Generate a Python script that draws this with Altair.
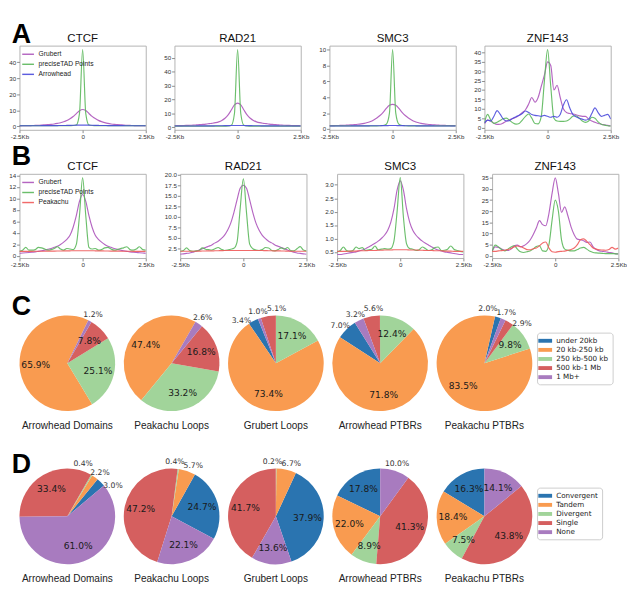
import math
import altair as alt
import pandas as pd

# ---------------- x grid (kb from boundary) ----------------
X = [-2.5, -2.375, -2.25, -2.125, -2.0, -1.875, -1.75, -1.625, -1.5, -1.375,
     -1.25, -1.125, -1.0, -0.875, -0.75, -0.625, -0.5, -0.375, -0.25, -0.125,
     0.0, 0.125, 0.25, 0.375, 0.5, 0.625, 0.75, 0.875, 1.0, 1.125,
     1.25, 1.375, 1.5, 1.625, 1.75, 1.875, 2.0, 2.125, 2.25, 2.375, 2.5]

# ---------------- Row A profiles ----------------
A_CTCF_GRUBERT = [0.4, 0.45, 0.5, 0.5, 0.6, 0.65, 0.75, 0.85, 1.0, 1.15, 1.3, 1.55, 1.9, 2.3, 2.9, 3.7, 4.8, 6.2, 8.0, 9.8,
                  10.6, 9.9, 8.1, 6.3, 4.9, 3.8, 3.0, 2.4, 1.9, 1.55, 1.3, 1.15, 1.0, 0.85, 0.75, 0.65, 0.6, 0.5, 0.5, 0.45, 0.4]
A_CTCF_PRECISE = [0.5, 0.5, 0.5, 0.5, 0.5, 0.5, 0.5, 0.5, 0.5, 0.5, 0.5, 0.5, 0.5, 0.5, 0.5, 0.5, 0.55, 0.6, 0.9, 8.0,
                  48.0, 8.0, 0.9, 0.6, 0.55, 0.5, 0.5, 0.5, 0.5, 0.5, 0.5, 0.5, 0.5, 0.5, 0.5, 0.5, 0.5, 0.5, 0.5, 0.5, 0.5]
A_CTCF_ARROW = [0.45, 0.45, 0.45, 0.45, 0.45, 0.45, 0.45, 0.5, 0.5, 0.5, 0.5, 0.55, 0.55, 0.6, 0.6, 0.65, 0.7, 0.75, 0.8, 0.85,
                0.85, 0.85, 0.8, 0.75, 0.7, 0.65, 0.6, 0.6, 0.55, 0.55, 0.5, 0.5, 0.5, 0.5, 0.45, 0.45, 0.45, 0.45, 0.45, 0.45, 0.45]

A_RAD21_GRUBERT = [1.2, 1.25, 1.3, 1.35, 1.45, 1.55, 1.65, 1.8, 1.95, 2.15, 2.4, 2.7, 3.0, 3.4, 4.0, 5.0, 6.6, 9.0, 12.5, 16.2,
                   17.5, 16.2, 12.5, 9.0, 6.6, 5.0, 4.0, 3.4, 3.0, 2.7, 2.4, 2.15, 1.95, 1.8, 1.65, 1.55, 1.45, 1.35, 1.3, 1.25, 1.2]
A_RAD21_PRECISE = [0.9, 0.9, 0.9, 0.9, 0.9, 0.9, 0.9, 0.9, 0.9, 0.9, 0.9, 0.9, 0.9, 0.9, 0.9, 0.9, 0.95, 1.0, 1.5, 10.0,
                   56.0, 10.0, 1.5, 1.0, 0.95, 0.9, 0.9, 0.9, 0.9, 0.9, 0.9, 0.9, 0.9, 0.9, 0.9, 0.9, 0.9, 0.9, 0.9, 0.9, 0.9]
A_RAD21_ARROW = [1.0, 1.0, 1.0, 1.0, 1.0, 1.0, 1.0, 1.05, 1.05, 1.05, 1.05, 1.1, 1.1, 1.15, 1.15, 1.2, 1.25, 1.3, 1.35, 1.4,
                 1.4, 1.4, 1.35, 1.3, 1.25, 1.2, 1.15, 1.15, 1.1, 1.1, 1.05, 1.05, 1.05, 1.05, 1.0, 1.0, 1.0, 1.0, 1.0, 1.0, 1.0]

A_SMC3_GRUBERT = [0.42, 0.43, 0.44, 0.45, 0.46, 0.48, 0.5, 0.53, 0.56, 0.6, 0.65, 0.72, 0.82, 0.95, 1.15, 1.4, 1.7, 2.1, 2.6, 3.0,
                  3.1, 3.0, 2.6, 2.1, 1.7, 1.4, 1.15, 0.95, 0.82, 0.72, 0.65, 0.6, 0.56, 0.53, 0.5, 0.48, 0.46, 0.45, 0.44, 0.43, 0.42]
A_SMC3_PRECISE = [0.4, 0.4, 0.4, 0.4, 0.4, 0.4, 0.4, 0.4, 0.4, 0.4, 0.4, 0.4, 0.4, 0.4, 0.4, 0.4, 0.42, 0.45, 0.6, 2.0,
                  10.0, 2.0, 0.6, 0.45, 0.42, 0.4, 0.4, 0.4, 0.4, 0.4, 0.4, 0.4, 0.4, 0.4, 0.4, 0.4, 0.4, 0.4, 0.4, 0.4, 0.4]
A_SMC3_ARROW = [0.38, 0.38, 0.38, 0.38, 0.38, 0.38, 0.38, 0.39, 0.39, 0.39, 0.39, 0.4, 0.4, 0.41, 0.41, 0.42, 0.42, 0.43, 0.43, 0.44,
                0.44, 0.44, 0.43, 0.43, 0.42, 0.42, 0.41, 0.41, 0.4, 0.4, 0.39, 0.39, 0.39, 0.39, 0.38, 0.38, 0.38, 0.38, 0.38, 0.38, 0.38]

A_ZNF_GRUBERT = [2.0, 4.0, 3.5, 2.3, 1.7, 1.8, 2.5, 3.5, 4.2, 4.8, 5.5, 6.5, 8.0, 9.5, 12.5, 16.0, 13.5, 16.0, 22.0, 28.0,
                 35.0, 33.0, 20.0, 22.5, 16.0, 10.0, 8.0, 7.5, 7.2, 6.8, 6.3, 6.0, 6.0, 4.5, 3.5, 2.8, 2.2, 1.8, 1.5, 1.2, 1.0]
A_ZNF_PRECISE = [2.5, 7.0, 4.0, 2.2, 2.8, 3.8, 4.8, 5.0, 3.8, 2.5, 1.8, 2.2, 4.0, 6.0, 7.2, 5.0, 2.2, 2.0, 6.0, 25.0,
                 41.5, 22.0, 5.0, 3.5, 3.3, 3.3, 3.5, 4.5, 6.0, 6.3, 5.0, 3.5, 2.8, 3.5, 5.5, 5.0, 3.0, 1.8, 1.3, 1.0, 0.8]
A_ZNF_ARROW = [2.5, 4.0, 3.5, 6.0, 9.0, 7.0, 4.5, 3.5, 3.8, 5.0, 5.8, 6.5, 7.5, 8.8, 8.0, 7.0, 6.5, 6.3, 6.0, 6.5,
               6.0, 5.5, 6.0, 5.5, 7.0, 12.0, 14.8, 10.5, 7.0, 5.8, 5.0, 4.5, 4.0, 4.5, 7.5, 10.5, 8.0, 6.0, 6.5, 7.0, 4.5]

# ---------------- Row B profiles ----------------
B_CTCF_GRUBERT = [0.45, 0.5, 0.55, 0.6, 0.65, 0.7, 0.8, 0.9, 1.0, 1.15, 1.3, 1.5, 1.7, 2.0, 2.4, 2.9, 3.6, 5.0, 7.0, 9.5,
                  10.7, 9.5, 7.0, 5.0, 3.6, 2.9, 2.4, 2.0, 1.7, 1.5, 1.3, 1.15, 1.0, 0.9, 0.8, 0.7, 0.65, 0.6, 0.55, 0.5, 0.45]
B_CTCF_PRECISE = [0.8, 1.0, 1.5, 1.0, 1.0, 1.1, 1.5, 1.4, 1.2, 1.0, 1.1, 1.3, 1.6, 1.2, 1.0, 1.3, 1.2, 1.1, 2.0, 7.0,
                  13.6, 7.0, 1.5, 1.2, 1.3, 1.0, 1.1, 1.4, 1.5, 1.2, 1.0, 1.1, 1.3, 1.4, 1.6, 1.1, 1.0, 1.2, 1.6, 1.1, 1.0]
B_CTCF_PEAK = [0.8, 0.8, 0.8, 0.8, 0.8, 0.81, 0.81, 0.82, 0.82, 0.83, 0.83, 0.84, 0.85, 0.86, 0.87, 0.88, 0.89, 0.9, 0.9, 0.9,
               0.9, 0.9, 0.9, 0.9, 0.89, 0.88, 0.87, 0.86, 0.85, 0.84, 0.83, 0.83, 0.82, 0.82, 0.81, 0.81, 0.8, 0.8, 0.8, 0.8, 0.8]

B_RAD21_GRUBERT = [1.1, 1.2, 1.3, 1.4, 1.6, 1.8, 2.1, 2.4, 2.7, 3.0, 3.3, 3.8, 4.2, 4.8, 5.6, 6.8, 8.5, 11.0, 14.0, 16.8,
                   17.5, 16.8, 14.0, 11.0, 8.5, 6.8, 5.6, 4.8, 4.2, 3.8, 3.3, 3.0, 2.7, 2.4, 2.1, 1.8, 1.6, 1.4, 1.3, 1.2, 1.1]
B_RAD21_PRECISE = [1.8, 2.0, 2.6, 2.0, 1.8, 1.9, 2.0, 2.6, 2.3, 2.2, 2.1, 2.4, 2.7, 2.3, 2.0, 2.1, 2.3, 2.5, 4.0, 12.0,
                   19.0, 11.0, 3.5, 2.4, 2.1, 2.0, 2.2, 2.7, 2.6, 2.0, 1.9, 2.2, 2.6, 2.3, 2.7, 2.0, 1.9, 2.4, 2.9, 2.1, 1.9]
B_RAD21_PEAK = [1.8, 1.8, 1.8, 1.8, 1.8, 1.82, 1.84, 1.86, 1.88, 1.9, 1.9, 1.92, 1.94, 1.96, 1.98, 2.0, 2.0, 2.0, 2.0, 2.0,
                2.0, 2.0, 2.0, 2.0, 2.0, 2.0, 1.98, 1.96, 1.94, 1.92, 1.9, 1.9, 1.88, 1.86, 1.84, 1.82, 1.8, 1.8, 1.8, 1.8, 1.8]

B_SMC3_GRUBERT = [0.4, 0.4, 0.42, 0.44, 0.46, 0.48, 0.5, 0.53, 0.57, 0.62, 0.68, 0.75, 0.82, 0.9, 1.0, 1.12, 1.3, 1.6, 2.1, 2.8,
                  3.15, 2.8, 2.1, 1.6, 1.3, 1.12, 1.0, 0.9, 0.82, 0.75, 0.68, 0.62, 0.57, 0.53, 0.5, 0.48, 0.46, 0.44, 0.42, 0.4, 0.4]
B_SMC3_PRECISE = [0.5, 0.55, 0.68, 0.55, 0.52, 0.55, 0.68, 0.62, 0.66, 0.55, 0.58, 0.6, 0.72, 0.58, 0.6, 0.62, 0.6, 0.62, 0.9, 2.0,
                  3.27, 1.8, 0.8, 0.62, 0.6, 0.55, 0.58, 0.68, 0.62, 0.55, 0.58, 0.66, 0.68, 0.55, 0.56, 0.6, 0.72, 0.6, 0.55, 0.52, 0.5]
B_SMC3_PEAK = [0.52, 0.52, 0.52, 0.52, 0.53, 0.53, 0.53, 0.54, 0.54, 0.54, 0.55, 0.55, 0.55, 0.56, 0.56, 0.57, 0.57, 0.57, 0.58, 0.58,
               0.58, 0.58, 0.58, 0.57, 0.57, 0.57, 0.56, 0.56, 0.55, 0.55, 0.55, 0.54, 0.54, 0.54, 0.53, 0.53, 0.53, 0.52, 0.52, 0.52, 0.52]

B_ZNF_GRUBERT = [2.0, 4.0, 3.8, 3.0, 2.5, 2.4, 3.0, 4.5, 4.8, 4.0, 4.5, 5.5, 7.0, 9.5, 12.5, 15.8, 14.0, 13.5, 19.0, 28.0,
                 35.0, 28.0, 19.5, 22.0, 18.0, 13.0, 9.5, 7.5, 7.2, 6.8, 6.0, 6.2, 4.0, 2.8, 2.2, 2.0, 1.8, 1.5, 1.3, 1.0, 0.8]
B_ZNF_PRECISE = [2.0, 4.8, 4.0, 2.8, 2.2, 3.0, 4.0, 4.5, 3.0, 1.8, 1.5, 1.8, 2.2, 3.0, 4.2, 4.5, 2.2, 2.0, 5.0, 16.0,
                 25.0, 20.0, 7.0, 3.0, 2.5, 2.2, 2.2, 2.8, 3.5, 3.8, 3.0, 2.0, 1.5, 1.3, 1.2, 1.1, 1.0, 1.0, 1.0, 0.9, 0.9]
B_ZNF_PEAK = [2.0, 2.0, 2.2, 2.3, 2.5, 2.8, 3.3, 4.0, 4.4, 4.2, 3.5, 2.8, 2.7, 3.2, 3.5, 4.5, 5.8, 6.2, 3.5, 1.8,
              1.6, 1.9, 2.0, 2.1, 2.5, 2.8, 3.5, 5.0, 7.2, 7.6, 6.5, 5.0, 3.5, 3.0, 2.7, 2.6, 2.5, 2.8, 3.8, 3.0, 3.5]

# ---------------- Pie data ----------------
PIE_NAMES = ["Arrowhead Domains", "Peakachu Loops", "Grubert Loops", "Arrowhead PTBRs", "Peakachu PTBRs"]
SIZE_CATS = ["under 20kb", "20 kb-250 kb", "250 kb-500 kb", "500 kb-1 Mb", "1 Mb+"]
SIZE_VALUES = [
    [0.0, 65.9, 25.1, 7.8, 1.2],
    [0.0, 47.4, 33.2, 16.8, 2.6],
    [3.4, 73.4, 17.1, 5.1, 1.0],
    [7.0, 71.8, 12.4, 5.6, 3.2],
    [2.0, 83.5, 9.8, 2.9, 1.7],
]
SIZE_START = [26, 30, -22, -32, 20]

ORIENT_CATS = ["Convergent", "Tandem", "Divergent", "Single", "None"]
ORIENT_VALUES = [
    [3.0, 2.2, 0.4, 33.4, 61.0],
    [24.7, 5.7, 0.4, 47.2, 22.1],
    [37.9, 6.7, 0.2, 41.7, 13.6],
    [17.8, 22.0, 8.9, 41.3, 10.0],
    [16.3, 18.4, 7.5, 43.8, 14.1],
]
ORIENT_START = [50, 118, 161, 0, 0]

PIE_COLORS = ["#2a74b0", "#f99b50", "#a1d49a", "#d55f5f", "#a87bbf"]
LINE_COLORS = {"Grubert": "#ad55bb", "preciseTAD Points": "#5cb85c",
               "Arrowhead": "#4b4bdc", "Peakachu": "#f05a5a"}

SANS = "Liberation Sans"
DEJAVU = "DejaVu Sans"
PW, PH = 132, 88
SMALL = 7.2        # slices below this percentage get their label outside the pie
LABEL_SEP = 20.0   # minimum angular gap (deg) between outside labels
# label placement style: slices whose label is drawn outside although large
FORCE_OUTSIDE = {("Arrowhead PTBRs", "None")}


def text_mark(t, dx, dy, size, weight="normal", align="left", color="black", font=SANS):
    return alt.Chart(pd.DataFrame({"t": [t]})).mark_text(
        fontSize=size, fontWeight=weight, font=font, align=align, baseline="alphabetic",
        color=color).encode(text="t:N", x=alt.value(dx), y=alt.value(dy))


def line_panel(title, names, series, domain, ticks, fmt, letter=None, letter_dy=-3):
    rows = []
    for name, ys in zip(names, series):
        for x, y in zip(X, ys):
            rows.append({"x": x, "y": y, "series": name})
    df = pd.DataFrame(rows)
    if letter:
        legend = alt.Legend(orient="top-left", title=None, offset=2, padding=0,
                            labelFont=SANS, labelFontSize=7, labelColor="#222",
                            symbolType="stroke", symbolSize=150, symbolStrokeWidth=1.5,
                            rowPadding=0.5, labelOffset=4)
    else:
        legend = None
    lines = alt.Chart(df).mark_line(interpolate="monotone", strokeWidth=1.2,
                                    opacity=0.9, clip=True).encode(
        x=alt.X("x:Q", scale=alt.Scale(domain=[-2.5, 2.5], nice=False, zero=False),
                axis=alt.Axis(values=[-2.5, 0, 2.5], title=None, grid=False, labelFlush=False,
                              labelExpr="datum.value == 0 ? '0' : (datum.value < 0 ? '-2.5Kb' : '2.5Kb')")),
        y=alt.Y("y:Q", scale=alt.Scale(domain=domain, nice=False, zero=False),
                axis=alt.Axis(values=ticks, format=fmt, title=None, grid=False)),
        color=alt.Color("series:N", scale=alt.Scale(domain=names, range=[LINE_COLORS[n] for n in names]),
                        legend=legend),
    )
    layers = [lines, text_mark(title, PW / 2, -4, 12, align="center", color="#111")]
    if letter:
        layers.append(text_mark(letter, -8, letter_dy, 28, weight="bold"))
    return alt.layer(*layers).properties(
        width=PW, height=PH,
        view=alt.ViewBackground(stroke="#b0b0b0", strokeWidth=1))


namesA = ["Grubert", "preciseTAD Points", "Arrowhead"]
namesB = ["Grubert", "preciseTAD Points", "Peakachu"]

rowA = alt.hconcat(
    line_panel("CTCF", namesA, [A_CTCF_GRUBERT, A_CTCF_PRECISE, A_CTCF_ARROW], [-2.1, 50.4], [0, 10, 20, 30, 40], "d", "A", -3),
    line_panel("RAD21", namesA, [A_RAD21_GRUBERT, A_RAD21_PRECISE, A_RAD21_ARROW], [-1.75, 58.8], [0, 10, 20, 30, 40, 50], "d"),
    line_panel("SMC3", namesA, [A_SMC3_GRUBERT, A_SMC3_PRECISE, A_SMC3_ARROW], [-0.1, 10.5], [0, 2, 4, 6, 8, 10], "d"),
    line_panel("ZNF143", namesA, [A_ZNF_GRUBERT, A_ZNF_PRECISE, A_ZNF_ARROW], [-1.2, 43.6], [0, 5, 10, 15, 20, 25, 30, 35, 40], "d"),
    spacing=9,
).resolve_scale(color="independent")

rowB = alt.hconcat(
    line_panel("CTCF", namesB, [B_CTCF_GRUBERT, B_CTCF_PRECISE, B_CTCF_PEAK], [-0.37, 14.3], [0, 2, 4, 6, 8, 10, 12, 14], "d", "B", -9),
    line_panel("RAD21", namesB, [B_RAD21_GRUBERT, B_RAD21_PRECISE, B_RAD21_PEAK], [0.2, 20.2], [2.5, 5, 7.5, 10, 12.5, 15, 17.5, 20], ".1f"),
    line_panel("SMC3", namesB, [B_SMC3_GRUBERT, B_SMC3_PRECISE, B_SMC3_PEAK], [0.27, 3.41], [0.5, 1.0, 1.5, 2.0, 2.5, 3.0], ".1f"),
    line_panel("ZNF143", namesB, [B_ZNF_GRUBERT, B_ZNF_PRECISE, B_ZNF_PEAK], [-1.0, 36.8], [0, 5, 10, 15, 20, 25, 30, 35], "d"),
    spacing=9,
).resolve_scale(color="independent")


def is_outside(name, cat, v):
    return v > 0 and (v < SMALL or (name, cat) in FORCE_OUTSIDE)


def outside_labels(name, cats, values, start_deg):
    """Mid-angles of the outside-labelled slices (same geometry as the theta
    scale), spread apart so neighbouring labels do not collide."""
    total = sum(values)
    cum = 0.0
    items = []
    for cat, v in zip(cats, values):
        mid = start_deg - 360.0 * (cum + v / 2.0) / total
        mid = ((mid + 180.0) % 360.0) - 180.0
        if is_outside(name, cat, v):
            items.append([mid, "%.1f%%" % v])
        cum += v
    items.sort(key=lambda t: t[0])
    for _ in range(200):
        moved = False
        for j in range(len(items) - 1):
            gap = items[j + 1][0] - items[j][0]
            if gap < LABEL_SEP - 1e-6:
                shift = (LABEL_SEP - gap) / 2.0
                items[j][0] -= shift
                items[j + 1][0] += shift
                moved = True
        if not moved:
            break
    return pd.DataFrame({"lab": [t[1] for t in items],
                         "ang": [math.radians(t[0]) for t in items]})


def pie_panel(name, cats, values, start_deg, legend_y=None, letter=None, letter_dy=0):
    inside_flag = [0 if is_outside(name, c, v) else 1 for c, v in zip(cats, values)]
    df = pd.DataFrame({"cat": cats, "v": values, "k": list(range(len(cats))), "ins": inside_flag})
    a = math.radians(start_deg)
    theta = alt.Theta("v:Q", stack=True, scale=alt.Scale(range=[a, a - 2 * math.pi]))
    if legend_y is not None:
        legend = alt.Legend(orient="none", legendX=105, legendY=legend_y, title=None,
                            labelFont=DEJAVU, labelFontSize=7.5, labelColor="#222",
                            symbolType="M-1.6,-0.45L1.6,-0.45L1.6,0.45L-1.6,0.45Z", symbolSize=81,
                            symbolStrokeWidth=0, strokeColor="#cccccc", cornerRadius=3,
                            padding=4, fillColor="white", rowPadding=1.5, labelOffset=7)
    else:
        legend = None
    arcs = alt.Chart(df).mark_arc(outerRadius=50).encode(
        theta=theta,
        color=alt.Color("cat:N", scale=alt.Scale(domain=cats, range=PIE_COLORS), legend=legend),
        order=alt.Order("k:Q"),
    )
    inner = alt.Chart(df).transform_calculate(
        lab="datum.ins == 1 && datum.v > 0 ? format(datum.v, '.1f') + '%' : ''",
    ).mark_text(radius=33, font=DEJAVU, fontSize=9.5, color="#1a1a1a").encode(
        theta=theta, detail="cat:N", order=alt.Order("k:Q"), text="lab:N")
    layers = [arcs, inner]
    out_df = outside_labels(name, cats, values, start_deg)
    if len(out_df):
        outer = alt.Chart(out_df).mark_text(
            radius=57, align="center", baseline="middle", font=DEJAVU, fontSize=8,
            color="#333333").encode(theta=alt.Theta("ang:Q", scale=None), text="lab:N")
        layers.append(outer)
    layers.append(text_mark(name, 50, 119, 10.5, align="center", color="#222"))
    if letter:
        layers.append(text_mark(letter, -8, letter_dy, 28, weight="bold"))
    return alt.layer(*layers).resolve_scale(theta="independent").properties(
        width=100, height=100,
        view=alt.ViewBackground(stroke="transparent"))


rowC = alt.hconcat(
    *[pie_panel(PIE_NAMES[i], SIZE_CATS, SIZE_VALUES[i], SIZE_START[i],
                18 if i == 4 else None, "C" if i == 0 else None, 0)
      for i in range(5)],
    spacing=9, bounds="flush",
).resolve_scale(theta="independent", color="independent")

rowD = alt.hconcat(
    *[pie_panel(PIE_NAMES[i], ORIENT_CATS, ORIENT_VALUES[i], ORIENT_START[i],
                20 if i == 4 else None, "D" if i == 0 else None, 5)
      for i in range(5)],
    spacing=9, bounds="flush",
).resolve_scale(theta="independent", color="independent")

chart = alt.vconcat(
    alt.vconcat(rowA, rowB, spacing=3),
    alt.vconcat(rowC, rowD, spacing=20),
    spacing=26,
).properties(padding=0).configure_view(stroke="#b0b0b0").configure_axis(
    labelFont=SANS, labelFontSize=6.5, labelColor="#333", tickColor="#888",
    tickSize=3, labelPadding=1, domain=False,
)

chart.save("out.html", embed_options={"renderer": "svg", "actions": False})
